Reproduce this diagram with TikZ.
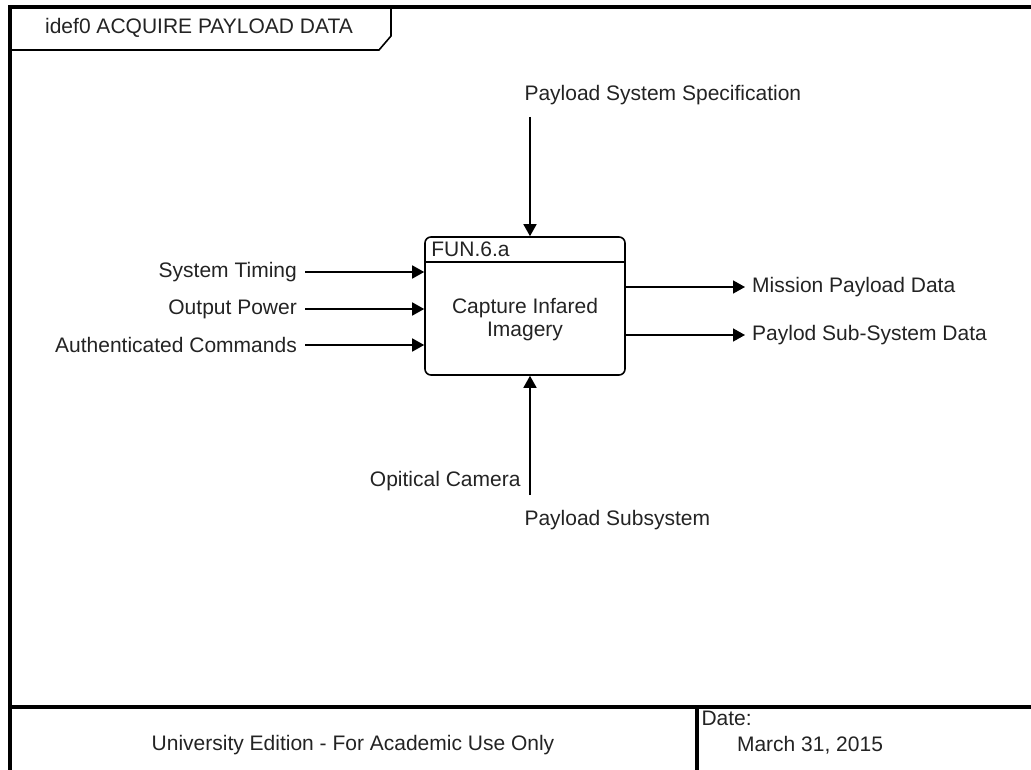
\documentclass[tikz,border=0pt]{standalone}
\usepackage{fontspec}
\setmainfont{Liberation Sans}
\usetikzlibrary{arrows.meta}
\definecolor{inkgray}{RGB}{35,35,35}

\begin{document}
\begin{tikzpicture}[x=1pt,y=-1pt,
    every node/.style={font=\fontsize{21}{23}\selectfont, text=inkgray},
    frameline/.style={line width=3.2pt},
    thinline/.style={line width=1.6pt},
    flow/.style={line width=1.6pt, -{Triangle[length=12pt,width=13pt]}},
    inlbl/.style={anchor=east, inner xsep=8pt},
    outlbl/.style={anchor=west, inner xsep=7pt}]
  \useasboundingbox (0,0) rectangle (1031,770);
  % outer frame, runs off the page at right and bottom
  \draw[frameline] (10,770) -- (10,7) -- (1031,7);
  \draw[frameline] (10,707) -- (1031,707);
  \draw[frameline] (697,707) -- (697,770);
  % title tab
  \draw[thinline] (391,7) -- (391,36) -- (379,50) -- (10,50);
  \node (ttl) at (199,28) {idef0 ACQUIRE PAYLOAD DATA};

  % function box: 200 x 138, header 26
  \node[draw, thinline, rounded corners=6pt, minimum width=200pt, minimum height=138pt] (fn) at (525,306) {};
  \draw[thinline] ([yshift=-26pt]fn.north west) -- ([yshift=-26pt]fn.north east);
  \node[anchor=west, inner sep=0pt] (fid) at ([xshift=7pt,yshift=-13pt]fn.north west) {FUN.6.a};
  \node[align=center] (fnt) at (525,320) {Capture Infared\\Imagery};

  % inputs
  \foreach \nm/\yy/\txt in {st/272/System Timing, op/309/Output Power, ac/345/Authenticated Commands} {
    \node[inlbl] (\nm) at (305,\yy) {\txt};
    \draw[flow] (\nm.east) -- (\nm.east -| fn.west);
  }
  % outputs
  \foreach \nm/\yy/\txt in {mpd/287/Mission Payload Data, psd/335/Paylod Sub-System Data} {
    \node[outlbl] (\nm) at (745,\yy) {\txt};
    \draw[flow] (\nm.west -| fn.east) -- (\nm.west);
  }
  % control
  \node[anchor=west] (pss) at (521,95) {Payload System Specification};
  \coordinate (ctl) at (530,117);
  \draw[flow] (ctl) -- (ctl |- fn.north);
  % mechanisms
  \coordinate (mech) at (530,495);
  \draw[flow] (mech) -- (mech |- fn.south);
  \node[anchor=east] (cam) at (524,481) {Opitical Camera};
  \node[anchor=west] (pls) at (521,520) {Payload Subsystem};

  % footer
  \node (edu) at (353,745) {University Edition - For Academic Use Only};
  \node[anchor=west] (dlbl) at (698,718) {Date:};
  \node (dval) at (810,745) {March 31, 2015};
\end{tikzpicture}
\end{document}
